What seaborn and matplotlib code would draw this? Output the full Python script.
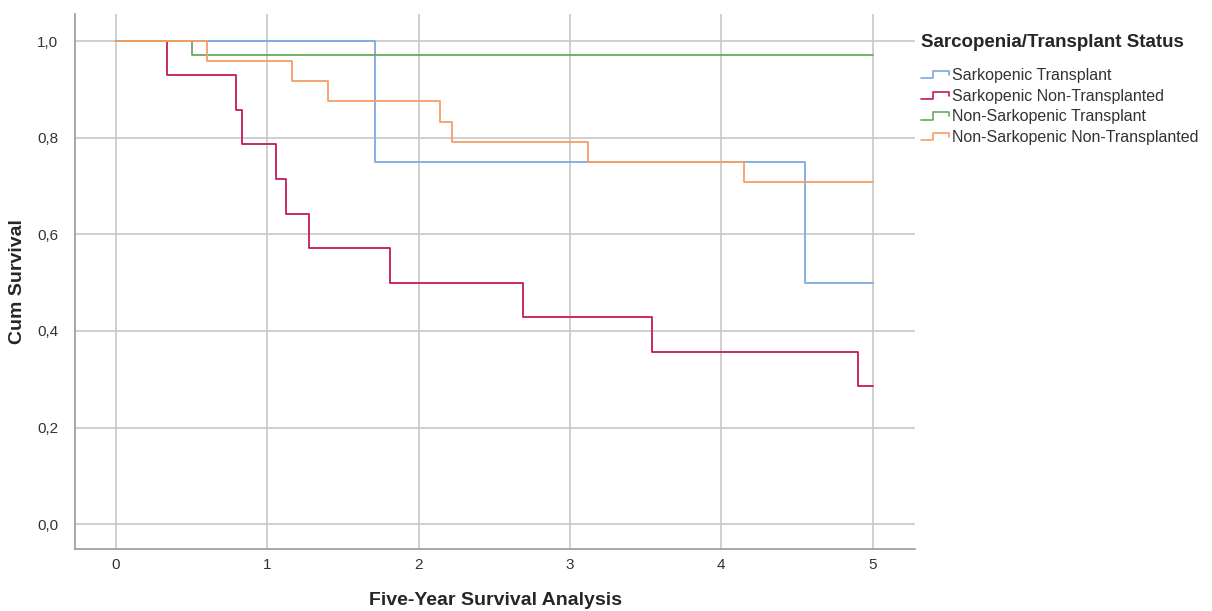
import matplotlib
matplotlib.use("Agg")
import matplotlib.pyplot as plt
from matplotlib.legend_handler import HandlerBase
from matplotlib.lines import Line2D
import pandas as pd
import seaborn as sns

# Kaplan-Meier step points (time in years, cumulative survival)
groups = ["Sarkopenic Transplant", "Sarkopenic Non-Transplanted",
          "Non-Sarkopenic Transplant", "Non-Sarkopenic Non-Transplanted"]
st_time = [0, 1.71, 4.55, 5.0]
st_surv = [1.0, 0.75, 0.5, 0.5]
snt_time = [0, 0.34, 0.79, 0.83, 1.06, 1.12, 1.275, 1.81, 2.69, 3.54, 4.90, 5.0]
snt_surv = [1.0, 0.929, 0.857, 0.786, 0.714, 0.643, 0.571, 0.5, 0.429, 0.357, 0.286, 0.286]
nst_time = [0, 0.50, 5.0]
nst_surv = [1.0, 0.971, 0.971]
nsnt_time = [0, 0.60, 1.16, 1.40, 2.14, 2.22, 3.12, 4.15, 5.0]
nsnt_surv = [1.0, 0.958, 0.917, 0.875, 0.833, 0.792, 0.750, 0.708, 0.708]
colors = ["#7ea9dd", "#c4185e", "#63ad5c", "#f59f68"]
x_ticks = [0, 1, 2, 3, 4, 5]
y_ticks = [0.0, 0.2, 0.4, 0.6, 0.8, 1.0]


class StepHandler(HandlerBase):
    # little step icon like the SPSS legend
    def create_artists(self, legend, orig_handle, xdescent, ydescent,
                       width, height, fontsize, trans):
        x0, x1 = -xdescent, -xdescent + width
        lo, hi = -ydescent + height * 0.15, -ydescent + height * 0.8
        xs = [x0, x0 + width * 0.4, x0 + width * 0.4, x1 - width * 0.05, x1 - width * 0.05]
        ys = [lo, lo, hi, hi, hi - height * 0.35]
        ln = Line2D(xs, ys, color=orig_handle.get_color(), lw=1.2, transform=trans)
        return [ln]


frames = []
for name, t, s in zip(groups, [st_time, snt_time, nst_time, nsnt_time],
                      [st_surv, snt_surv, nst_surv, nsnt_surv]):
    frames.append(pd.DataFrame({"time": t, "surv": s, "group": name}))
df = pd.concat(frames, ignore_index=True)

sns.set_style("white")
plt.rcParams["font.family"] = ["Liberation Sans", "DejaVu Sans"]

fig = plt.figure(figsize=(12.12, 6.11), dpi=100)
ax = fig.add_axes([0.062, 0.101, 0.693, 0.876])

sns.lineplot(data=df, x="time", y="surv", hue="group", hue_order=groups,
             palette=colors, estimator=None, drawstyle="steps-post",
             linewidth=1.3, legend=False, ax=ax)

ax.set_xlim(-0.27, 5.28)
ax.set_ylim(-0.052, 1.056)
ax.set_xticks(x_ticks)
ax.set_xticklabels([str(v) for v in x_ticks])
ax.set_yticks(y_ticks)
ax.set_yticklabels([f"{v:.1f}".replace(".", ",") for v in y_ticks])
ax.grid(True, color="#c8c8c8", linewidth=1.2)
ax.set_axisbelow(True)
ax.tick_params(axis="both", labelsize=11, colors="#333333", length=0)
ax.tick_params(axis="x", pad=6)
ax.tick_params(axis="y", pad=12)
for side in ["top", "right"]:
    ax.spines[side].set_visible(False)
for side in ["left", "bottom"]:
    ax.spines[side].set_color("#9a9a9a")
    ax.spines[side].set_linewidth(1.2)

ax.set_xlabel("Five-Year Survival Analysis", fontsize=14, fontweight="bold", labelpad=15)
ax.set_ylabel("Cum Survival", fontsize=14, fontweight="bold", labelpad=8)

handles = [Line2D([], [], color=c) for c in colors]
leg = fig.legend(handles, groups, loc="upper left", bbox_to_anchor=(0.753, 0.957),
                 frameon=False, title="Sarcopenia/Transplant Status", borderpad=0,
                 fontsize=11.5, title_fontproperties={"size": 13.5, "weight": "bold"},
                 handler_map={Line2D: StepHandler()}, handlelength=1.9,
                 handletextpad=0.05, labelspacing=0.36, alignment="left")
leg._legend_box.sep = 12  # more room under the title
for txt in leg.get_texts():
    txt.set_color("#333333")

fig.savefig("out.png", dpi=100)
